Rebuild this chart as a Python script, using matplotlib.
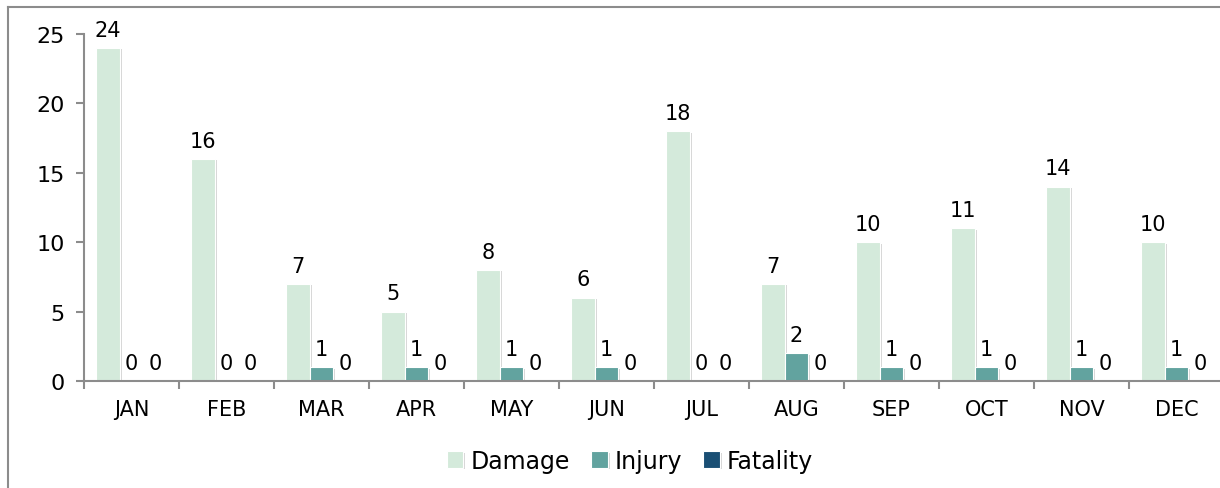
import matplotlib.pyplot as plt
import matplotlib.patheffects as pe
import numpy as np

months = ['JAN', 'FEB', 'MAR', 'APR', 'MAY', 'JUN', 'JUL', 'AUG', 'SEP', 'OCT', 'NOV', 'DEC']
damage = [24, 16, 7, 5, 8, 6, 18, 7, 10, 11, 14, 10]
injury = [0, 0, 1, 1, 1, 1, 0, 2, 1, 1, 1, 1]
fatality = [0, 0, 0, 0, 0, 0, 0, 0, 0, 0, 0, 0]

series = [('Damage', damage, '#d4eadb'),
          ('Injury', injury, '#62a39f'),
          ('Fatality', fatality, '#1a4f74')]

plt.rcParams['font.family'] = ['DejaVu Sans']

W, H = 1220, 489
fig = plt.figure(figsize=(W / 100, H / 100), dpi=100)
ax = fig.add_axes([84 / W, 1 - 382 / H, 1140 / W, 347 / H])

# outer frame (only left/top visible)
fig.add_artist(plt.Line2D([8 / W, 8 / W], [0, 1 - 8 / H], transform=fig.transFigure, color='#8c8c8c', lw=1.5))
fig.add_artist(plt.Line2D([8 / W, 1], [1 - 8 / H, 1 - 8 / H], transform=fig.transFigure, color='#8c8c8c', lw=1.5))

x = np.arange(len(months))
w = 0.25
shadow = [pe.SimplePatchShadow(offset=(1.5, -1), shadow_rgbFace='#bbbbbb', alpha=0.6), pe.Normal()]
for i, (name, vals, col) in enumerate(series):
    pos = x + (i - 1) * w
    bars = ax.bar(pos, vals, w, color=col, label=name, edgecolor='white', linewidth=0.8, zorder=2)
    for b in bars:
        b.set_path_effects(shadow)
    for p, v in zip(pos, vals):
        ax.annotate(str(v), (p, v), xytext=(0, 6), textcoords='offset points',
                    ha='center', va='bottom', fontsize=15, color='black')

ax.set_xlim(-0.5, len(months) - 0.5)
ax.set_ylim(0, 25)
ax.set_yticks(range(0, 26, 5))
ax.set_xticks(x)
ax.set_xticklabels(months)
ax.set_xticks(np.arange(-0.5, len(months), 1), minor=True)
ax.tick_params(axis='x', which='major', length=0, pad=13, labelsize=15)
ax.tick_params(axis='x', which='minor', length=6, color='#8c8c8c', width=1.5)
ax.tick_params(axis='y', length=6, color='#8c8c8c', width=1.5, labelsize=16, pad=8)
for s in ['top', 'right']:
    ax.spines[s].set_visible(False)
for s in ['left', 'bottom']:
    ax.spines[s].set_color('#8c8c8c')
    ax.spines[s].set_linewidth(1.5)

fig.legend(loc='center', bbox_to_anchor=(630 / W, 1 - 462 / H), ncol=3, frameon=False,
           fontsize=17, handlelength=0.7, handleheight=0.7, handletextpad=0.3, columnspacing=0.9)

fig.savefig('out.png', dpi=100)
